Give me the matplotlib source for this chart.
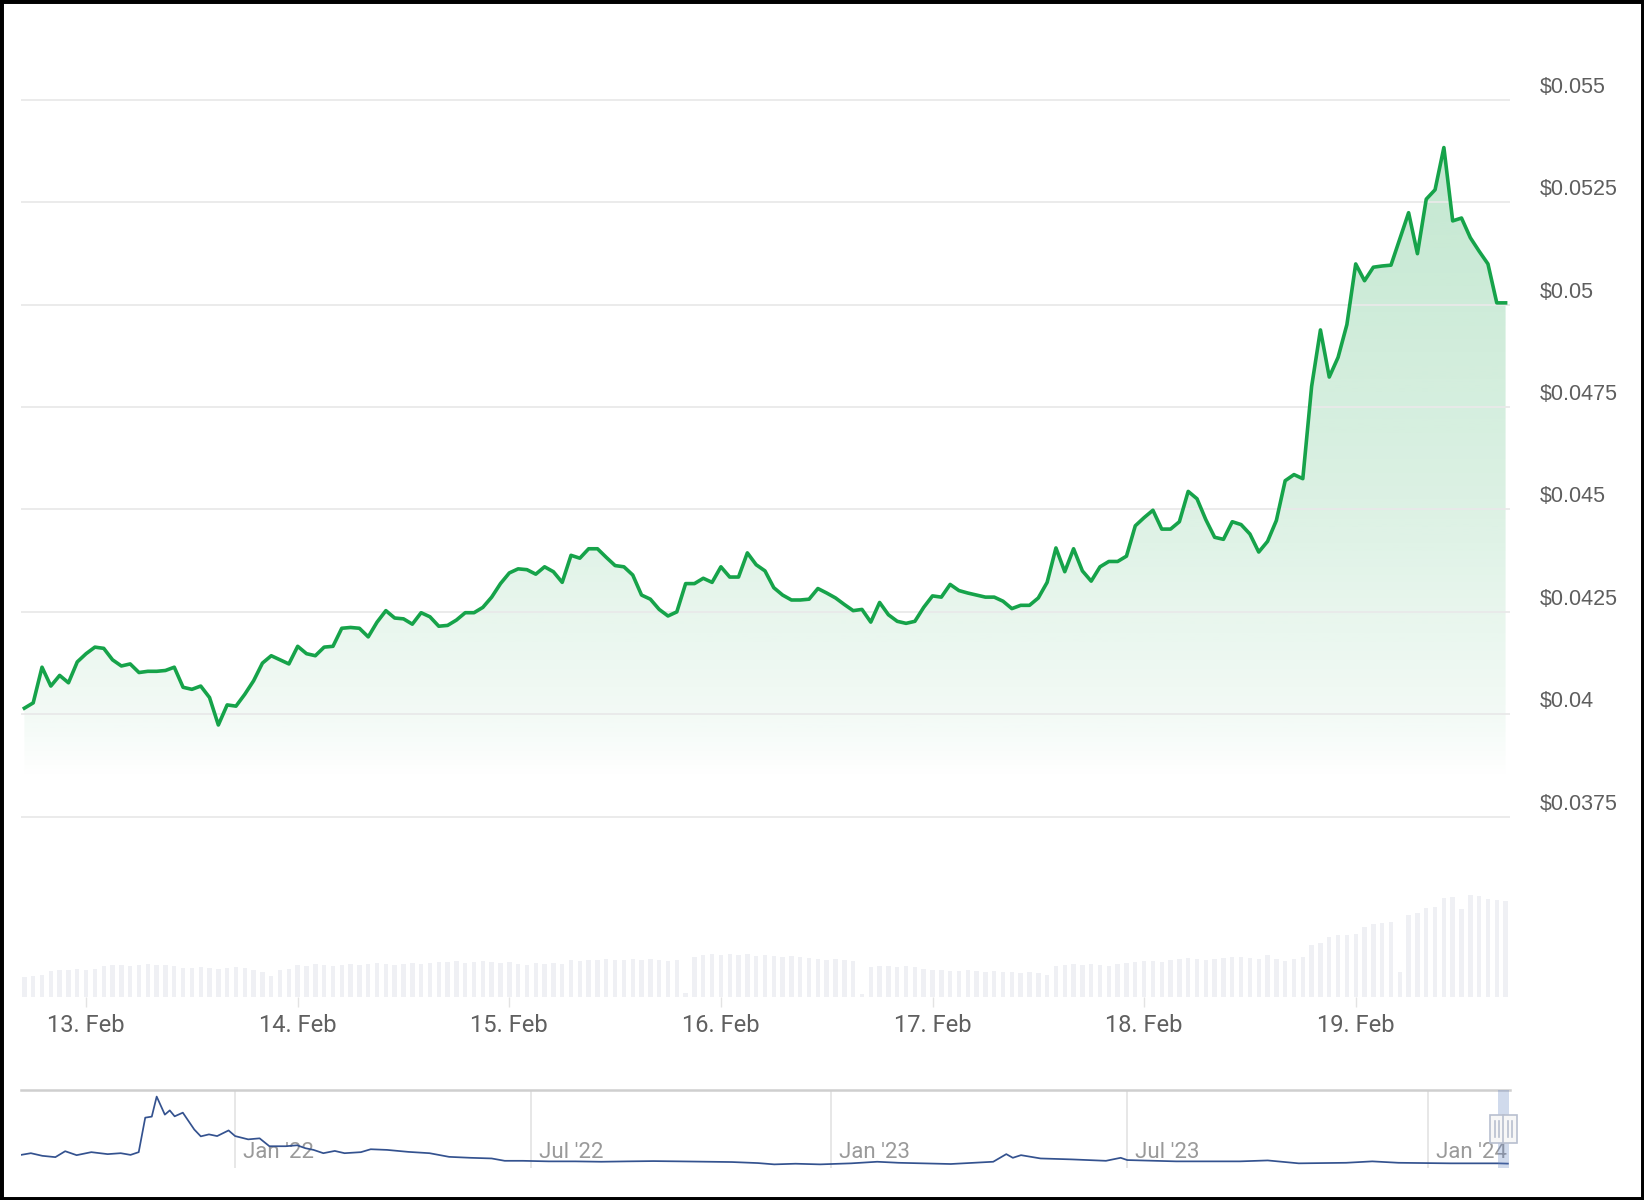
import numpy as np
import matplotlib
matplotlib.use("Agg")
import matplotlib.pyplot as plt
import matplotlib.dates as mdates
from matplotlib.patches import Polygon, Rectangle
from matplotlib.transforms import ScaledTranslation

# hourly price (USD), 12 Feb 17:00 -> 19 Feb 17:00 2024
price_usd = [
    0.04015, 0.04028, 0.04115, 0.04069, 0.04095, 0.04077, 0.04128, 0.04148, 0.04164, 0.04161,
    0.04133, 0.04118, 0.04123, 0.04102, 0.04105, 0.04105, 0.04107, 0.04115, 0.04066, 0.04061,
    0.04069, 0.04041, 0.03974, 0.04023, 0.04020, 0.04049, 0.04082, 0.04125, 0.04143, 0.04133,
    0.04123, 0.04166, 0.04148, 0.04143, 0.04164, 0.04166, 0.04210, 0.04212, 0.04210, 0.04189,
    0.04225, 0.04253, 0.04235, 0.04233, 0.04220, 0.04248, 0.04238, 0.04215, 0.04217, 0.04230,
    0.04248, 0.04248, 0.04261, 0.04286, 0.04319, 0.04345, 0.04355, 0.04353, 0.04342, 0.04360,
    0.04348, 0.04322, 0.04388, 0.04381, 0.04404, 0.04404, 0.04383, 0.04363, 0.04360, 0.04340,
    0.04291, 0.04281, 0.04256, 0.04240, 0.04250, 0.04319, 0.04319, 0.04332, 0.04322, 0.04360,
    0.04335, 0.04335, 0.04394, 0.04365, 0.04350, 0.04309, 0.04291, 0.04279, 0.04279, 0.04281,
    0.04307, 0.04296, 0.04284, 0.04268, 0.04253, 0.04256, 0.04225, 0.04273, 0.04243, 0.04227,
    0.04222, 0.04227, 0.04261, 0.04289, 0.04286, 0.04317, 0.04302, 0.04296, 0.04291, 0.04286,
    0.04286, 0.04276, 0.04258, 0.04266, 0.04266, 0.04284, 0.04322, 0.04406, 0.04348, 0.04404,
    0.04350, 0.04325, 0.04360, 0.04373, 0.04373, 0.04386, 0.04460, 0.04480, 0.04498, 0.04452,
    0.04452, 0.04470, 0.04544, 0.04526, 0.04475, 0.04432, 0.04427, 0.04470, 0.04463, 0.04440,
    0.04396, 0.04422, 0.04473, 0.04570, 0.04585, 0.04575, 0.04800, 0.04938, 0.04823, 0.04871,
    0.04951, 0.05099, 0.05058, 0.05091, 0.05094, 0.05096, 0.05160, 0.05224, 0.05124, 0.05257,
    0.05280, 0.05383, 0.05204, 0.05211, 0.05163, 0.05130, 0.05099, 0.05004, 0.05004,
]

# hourly volume (arbitrary M units), same hours
volume_m = [
    2.0, 2.1, 2.2,
    2.6, 2.7, 2.7, 2.8, 2.7, 2.8,
    3.1, 3.2, 3.2, 3.1, 3.2, 3.3, 3.2, 3.2, 3.1,
    2.9, 2.9, 3.0, 2.9, 2.8, 2.9, 3.0, 2.9,
    2.7, 2.5, 2.1, 2.7, 2.8,
    3.2, 3.1, 3.3, 3.2, 3.1, 3.2, 3.3, 3.2,
    3.3, 3.4, 3.3, 3.2, 3.3, 3.4, 3.3, 3.4,
    3.5, 3.5, 3.6, 3.4, 3.5, 3.6, 3.5, 3.4, 3.5,
    3.3, 3.2, 3.4, 3.3, 3.4, 3.3,
    3.7, 3.6, 3.7,
    3.7, 3.8, 3.7, 3.7, 3.8, 3.7, 3.8, 3.7, 3.6, 3.7,
    0.4,
    4.0, 4.2, 4.3, 4.2, 4.3, 4.2, 4.3, 4.1, 4.2, 4.1, 4.0, 4.1, 4.0, 3.9,
    3.8, 3.7, 3.8, 3.7, 3.6,
    0.3,
    3.0, 3.1, 3.1, 3.0, 3.1, 3.0,
    2.8, 2.7, 2.7, 2.6, 2.6, 2.7, 2.6, 2.5, 2.6, 2.5, 2.5, 2.4, 2.5, 2.4,
    2.2,
    3.1, 3.2, 3.3, 3.2, 3.3, 3.2, 3.1, 3.3, 3.4,
    3.5, 3.6, 3.6, 3.5, 3.7,
    3.8, 3.9, 3.8, 3.7, 3.8, 3.9, 4.0, 4.0, 3.9, 3.8, 4.2, 3.8, 3.6, 3.8, 4.0,
    5.2, 5.4,
    6.0, 6.2, 6.2, 6.3,
    7.0, 7.3, 7.4,
    7.5, 2.5,
    8.2, 8.4,
    8.9, 9.0,
    9.9, 10.0,
    8.8,
    10.2, 10.1,
    9.8, 9.7, 9.6,
]
last_hour = np.datetime64("2024-02-19T17:00")

ytick_values = [0.0375, 0.04, 0.0425, 0.045, 0.0475, 0.05, 0.0525, 0.055]
ytick_labels = ["$0.0375", "$0.04", "$0.0425", "$0.045", "$0.0475", "$0.05", "$0.0525", "$0.055"]
xtick_dates = ["2024-02-13", "2024-02-14", "2024-02-15", "2024-02-16",
               "2024-02-17", "2024-02-18", "2024-02-19"]
xtick_labels = ["13. Feb", "14. Feb", "15. Feb", "16. Feb", "17. Feb", "18. Feb", "19. Feb"]

# navigator: full history
nav_dates = [
    "2021-08-23", "2021-08-29", "2021-09-05", "2021-09-13", "2021-09-19", "2021-09-26",
    "2021-10-05", "2021-10-15", "2021-10-23", "2021-10-29", "2021-11-03", "2021-11-07",
    "2021-11-11", "2021-11-14", "2021-11-19", "2021-11-22", "2021-11-25", "2021-11-30",
    "2021-12-07", "2021-12-11", "2021-12-16", "2021-12-21", "2021-12-28", "2022-01-01",
    "2022-01-09", "2022-01-16", "2022-01-22", "2022-02-01", "2022-02-08", "2022-02-13",
    "2022-02-18", "2022-02-24", "2022-03-03", "2022-03-09", "2022-03-19", "2022-03-25",
    "2022-04-04", "2022-04-17", "2022-04-30", "2022-05-12", "2022-05-25", "2022-06-07",
    "2022-06-15", "2022-06-26", "2022-07-12", "2022-07-28", "2022-08-13", "2022-08-29",
    "2022-09-14", "2022-09-30", "2022-11-01", "2022-11-17", "2022-11-27", "2022-12-10",
    "2022-12-25", "2023-01-13", "2023-01-29", "2023-02-11", "2023-03-15", "2023-04-10",
    "2023-04-18", "2023-04-22", "2023-04-27", "2023-05-09", "2023-05-28", "2023-06-18",
    "2023-06-27", "2023-07-01", "2023-07-31", "2023-09-08", "2023-09-25", "2023-10-14",
    "2023-11-12", "2023-11-28", "2023-12-14", "2024-01-15", "2024-02-13", "2024-02-19",
]
nav_price = [
    0.143, 0.161, 0.133, 0.119, 0.182, 0.140,
    0.172, 0.151, 0.161, 0.143, 0.172, 0.539,
    0.550, 0.763, 0.571, 0.616, 0.553, 0.592,
    0.413, 0.340, 0.361, 0.343, 0.403, 0.343,
    0.308, 0.319, 0.235, 0.235, 0.245, 0.214,
    0.196, 0.161, 0.185, 0.161, 0.172, 0.203,
    0.196, 0.175, 0.161, 0.122, 0.112, 0.105,
    0.080, 0.080, 0.074, 0.074, 0.070, 0.074,
    0.077, 0.074, 0.067, 0.056, 0.042, 0.049,
    0.042, 0.053, 0.070, 0.059, 0.046, 0.070,
    0.151, 0.112, 0.140, 0.105, 0.095, 0.080,
    0.112, 0.088, 0.074, 0.074, 0.084, 0.053,
    0.059, 0.074, 0.059, 0.053, 0.053, 0.050,
]
nav_tick_dates = ["2022-01-01", "2022-07-01", "2023-01-01", "2023-07-01", "2024-01-01"]
nav_tick_labels = ["Jan '22", "Jul '22", "Jan '23", "Jul '23", "Jan '24"]

W, H = 1644, 1200
fig = plt.figure(figsize=(W / 100, H / 100), dpi=100)
fig.patch.set_facecolor("white")

left, right = 21, 1510
ax_rect = [left / W, (H - 997) / H, (right - left) / W, (997 - 40) / H]
ax_vol = fig.add_axes(ax_rect, zorder=0)
ax = fig.add_axes(ax_rect, zorder=1, sharex=ax_vol)
ax.patch.set_alpha(0)

one_h = np.timedelta64(1, "h")
t_price = last_hour - np.arange(len(price_usd))[::-1] * one_h
t_vol = last_hour - np.arange(len(volume_m))[::-1] * one_h
xp = mdates.date2num(t_price)
xv = mdates.date2num(t_vol)
xlim = mdates.date2num(np.array(["2024-02-12T16:37", "2024-02-19T17:30"], dtype="datetime64[m]"))
ylim = (0.033103, 0.056454)

# volume bars
ax_vol.bar(xv, volume_m, width=0.5 / 24, color="#eff0f4", linewidth=0)
ax_vol.set_ylim(0, 95.7)
ax_vol.set_xlim(*xlim)
ax_vol.axis("off")

# gradient fill under the price line
green = np.array([22, 163, 74]) / 255
yy = np.linspace(ylim[0], ylim[1], 500)
alpha = np.interp(yy, [0.03842, 0.04, 0.04254, 0.045, 0.05, 0.05402],
                  [0.0, 0.055, 0.10, 0.15, 0.21, 0.26])
grad = np.zeros((len(yy), 1, 4))
grad[:, 0, :3] = green
grad[:, 0, 3] = alpha
im = ax.imshow(grad, extent=[xlim[0], xlim[1], ylim[0], ylim[1]], origin="lower",
               aspect="auto", zorder=1, interpolation="bilinear")
verts = [(xp[0], ylim[0])] + list(zip(xp, price_usd)) + [(xp[-1], ylim[0])]
poly = Polygon(verts, closed=True, facecolor="none", edgecolor="none")
ax.add_patch(poly)
im.set_clip_path(poly)

ax.plot(xp, price_usd, color="#16a34a", lw=2.6, zorder=4, solid_joinstyle="round")

ax.set_xlim(*xlim)
ax.set_ylim(*ylim)
ax.set_yticks(ytick_values)
ax.yaxis.grid(True, color="#e9e9e9", lw=1.3)
ax.tick_params(axis="y", length=0, labelleft=False, labelright=False)
ax.set_xticks(mdates.date2num(np.array(xtick_dates, dtype="datetime64[h]")))
ax.tick_params(axis="x", length=7, width=1, color="#e3e3e3", labelbottom=False)
for s in ax.spines.values():
    s.set_visible(False)

ylab_tr = ax.get_yaxis_transform() + ScaledTranslation(0, 0.125, fig.dpi_scale_trans)
for v, lab in zip(ytick_values, ytick_labels):
    ax.text((1540 - left) / (right - left), v, lab.replace("$", r"\$"), transform=ylab_tr,
            ha="left", va="center", fontsize=15.5, color="#5e5e5e",
            family="Liberation Sans")
for d, lab in zip(xtick_dates, xtick_labels):
    ax.text(mdates.date2num(np.datetime64(d)), -(1025.5 - 997) / 957, lab,
            transform=ax.get_xaxis_transform(), ha="center", va="center",
            fontsize=17, color="#606060", family="Roboto")

# navigator
ax_nav = fig.add_axes([left / W, (H - 1168) / H, (right - left) / W, (1168 - 1090) / H])
xn = mdates.date2num(np.array(nav_dates, dtype="datetime64[D]"))
ax_nav.plot(xn, nav_price, color="#34528f", lw=1.25, zorder=3)
nav_xlim = mdates.date2num(np.array(["2021-08-22T23:00", "2024-02-20T07:00"], dtype="datetime64[m]"))
ax_nav.set_xlim(*nav_xlim)
ax_nav.set_ylim(0.0035, 0.833)
ax_nav.set_xticks(mdates.date2num(np.array(nav_tick_dates, dtype="datetime64[D]")))
ax_nav.xaxis.grid(True, color="#e3e3e3", lw=1.2)
ax_nav.set_yticks([])
ax_nav.tick_params(axis="x", length=0, labelbottom=False)
for k, s in ax_nav.spines.items():
    s.set_visible(k == "top")
ax_nav.spines["top"].set_color("#cfcfcf")
ax_nav.spines["top"].set_linewidth(1.8)

nav_tr = ax_nav.get_xaxis_transform() + ScaledTranslation(0.08, 0, fig.dpi_scale_trans)
for d, lab in zip(nav_tick_dates, nav_tick_labels):
    ax_nav.text(mdates.date2num(np.datetime64(d)), (1168 - 1153) / 78, lab, transform=nav_tr,
                ha="left", va="center", fontsize=16, color="#9a9a9a", family="Roboto", zorder=2)

ax_nav.axvspan(xp[0], xp[-1], color=(102 / 255, 133 / 255, 194 / 255, 0.3), lw=0, zorder=4)

# navigator handles
for hx in (1490, 1503):
    fig.add_artist(Rectangle((hx / W, (H - 1143) / H), 14 / W, 28 / H, transform=fig.transFigure,
                             facecolor="#f7f7f7", edgecolor="#b8bfcf", lw=1.2, zorder=5))
    for dx in (5, 9):
        fig.add_artist(plt.Line2D([(hx + dx) / W] * 2, [(H - 1137) / H, (H - 1121) / H],
                                  transform=fig.transFigure, color="#b8bfcf", lw=1.2, zorder=6))

# screenshot border
fig.add_artist(Rectangle((0, 0), 1, 1, transform=fig.transFigure, fill=False,
                         edgecolor="black", lw=5, zorder=10))

fig.savefig("out.png", dpi=100, facecolor="white")
